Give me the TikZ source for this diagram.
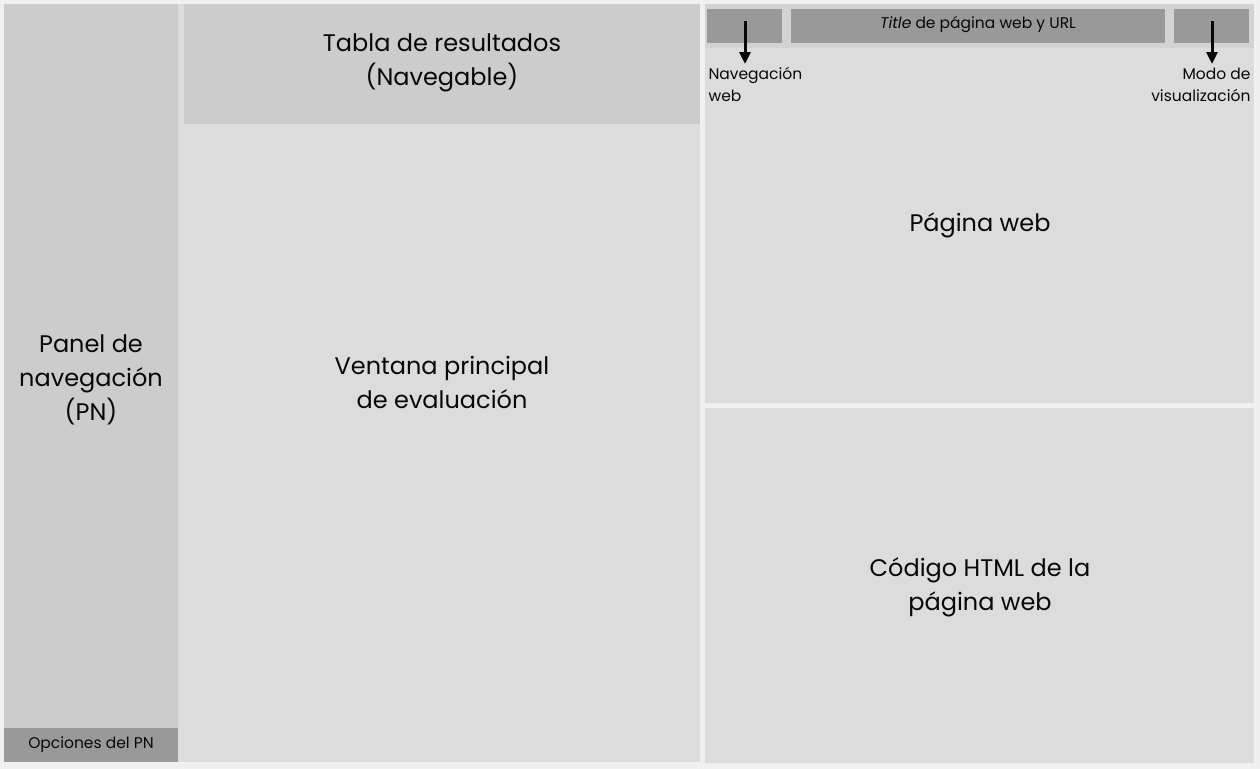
\documentclass[tikz,border=0pt]{standalone}
\usepackage{fontspec}
\setmainfont{Poppins}
\usetikzlibrary{arrows.meta}
\definecolor{bggray}{HTML}{F0F0F0}
\definecolor{lightgray}{HTML}{DCDCDC}
\definecolor{midgray}{HTML}{CCCCCC}
\definecolor{bargray}{HTML}{D3D3D3}
\definecolor{darkgray}{HTML}{999999}
\definecolor{ink}{HTML}{080808}

\begin{document}
\begin{tikzpicture}[x=1pt,y=-1pt,
    bigtext/.style={text=ink,align=center,font=\fontsize{24}{34}\selectfont},
    smalltext/.style={text=ink,font=\fontsize{15.5}{22}\selectfont},
    pointer/.style={-{Triangle[length=12pt,width=11pt]},line width=3pt,ink}]
\fill[bggray] (0,0) rectangle (1260,769);
\useasboundingbox (0,0) rectangle (1260,769);

% navigation panel
\fill[midgray] (4,4) rectangle (178,762);
\fill[darkgray] (4,728) rectangle (178,762);
\node[bigtext] (panel) at (91,380) {Panel de\\navegación\\(PN)};
\node[smalltext] (options) at (91,745) {Opciones del PN};

% evaluation window
\fill[lightgray] (178,4) rectangle (700,762);
\fill[midgray] (184,4) rectangle (700,124);
\node[bigtext] (table) at (442,63) {Tabla de resultados\\(Navegable)};
\node[bigtext] (window) at (442,382) {Ventana principal\\de evaluación};

% web page and html code
\fill[lightgray] (705,4) rectangle (1254,403);
\fill[lightgray] (705,408) rectangle (1254,763);
\fill[bargray] (705,4) rectangle (1254,48);
\fill[darkgray] (707,9) rectangle (782,43);
\fill[darkgray] (791,9) rectangle (1165,43);
\fill[darkgray] (1174,9) rectangle (1249,43);
\node[smalltext] (title) at (978,25) {\textit{Title} de página web y URL};
\coordinate (navbtn) at (745,21);
\coordinate (modebtn) at (1212,21);
\node[smalltext,align=left,anchor=north west] (navlbl) at (705,64) {Navegación\\web};
\node[smalltext,align=right,anchor=north east] (modelbl) at (1254,64) {Modo de\\visualización};
\draw[pointer] (navbtn) -- (navbtn |- navlbl.north);
\draw[pointer] (modebtn) -- (modebtn |- modelbl.north);
\node[bigtext] (page) at (980,225) {Página web};
\node[bigtext] (code) at (980,587) {Código HTML de la\\página web};
\end{tikzpicture}
\end{document}
